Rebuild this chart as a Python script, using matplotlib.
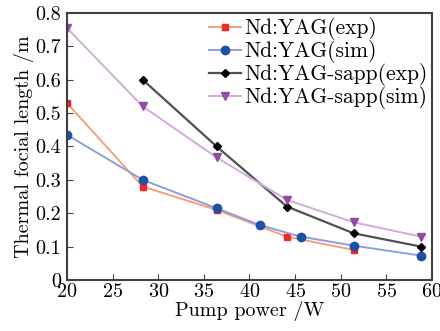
import matplotlib
matplotlib.use('Agg')
import matplotlib.pyplot as plt

# Values
x_yag_exp = [20, 28.3, 36.4, 44.1, 51.4]
y_yag_exp = [0.53, 0.28, 0.21, 0.13, 0.09]

x_yag_sim = [20, 28.3, 36.4, 41.1, 45.6, 51.4, 58.8]
y_yag_sim = [0.435, 0.30, 0.215, 0.165, 0.13, 0.103, 0.073]

x_sapp_exp = [28.3, 36.4, 44.1, 51.4, 58.8]
y_sapp_exp = [0.60, 0.40, 0.22, 0.14, 0.10]

x_sapp_sim = [20, 28.3, 36.4, 44.1, 51.4, 58.8]
y_sapp_sim = [0.755, 0.52, 0.367, 0.24, 0.173, 0.13]

x_ticks = [20, 25, 30, 35, 40, 45, 50, 55, 60]
y_ticks = [0, 0.1, 0.2, 0.3, 0.4, 0.5, 0.6, 0.7, 0.8]
y_tick_labels = ['0', '0.1', '0.2', '0.3', '0.4', '0.5', '0.6', '0.7', '0.8']

plt.rcParams['font.family'] = ['cmr10', 'DejaVu Serif']
plt.rcParams['axes.formatter.use_mathtext'] = True

fig = plt.figure(figsize=(4.4, 3.31), dpi=100)
ax = fig.add_axes([0.152, 0.154, 0.83, 0.807])

ax.plot(x_yag_exp, y_yag_exp, color='#f5a078', lw=1.4, marker='s', ms=5,
        mfc='#f02828', mec='#f02828', label='Nd:YAG(exp)')
ax.plot(x_yag_sim, y_yag_sim, color='#8c9fdc', lw=1.4, marker='o', ms=6,
        mfc='#1f50a8', mec='#1f50a8', label='Nd:YAG(sim)')
ax.plot(x_sapp_exp, y_sapp_exp, color='#505050', lw=1.6, marker='D', ms=4.5,
        mfc='black', mec='black', label='Nd:YAG-sapp(exp)')
ax.plot(x_sapp_sim, y_sapp_sim, color='#d4aadc', lw=1.4, marker='v', ms=6,
        mfc='#904ca0', mec='#904ca0', label='Nd:YAG-sapp(sim)')

ax.set_xlim(20, 60)
ax.set_ylim(0, 0.8)
ax.set_xticks(x_ticks)
ax.set_yticks(y_ticks)
ax.set_yticklabels(y_tick_labels)
ax.tick_params(direction='in', length=4, labelsize=14.5, color='#404040')
ax.tick_params(axis='x', pad=2)
ax.tick_params(axis='y', pad=4)
ax.set_xlabel('Pump power /W', fontsize=14.5, labelpad=0)
ax.set_ylabel('Thermal focial length /m', fontsize=14.5, labelpad=1)

for spine in ax.spines.values():
    spine.set_linewidth(1.5)
    spine.set_color('#404040')

ax.legend(loc='upper right', frameon=False, fontsize=15.5, handlelength=1.5,
          handletextpad=0.15, labelspacing=0.0, borderaxespad=0.1,
          borderpad=0.1)

fig.savefig('out.png', dpi=100)
